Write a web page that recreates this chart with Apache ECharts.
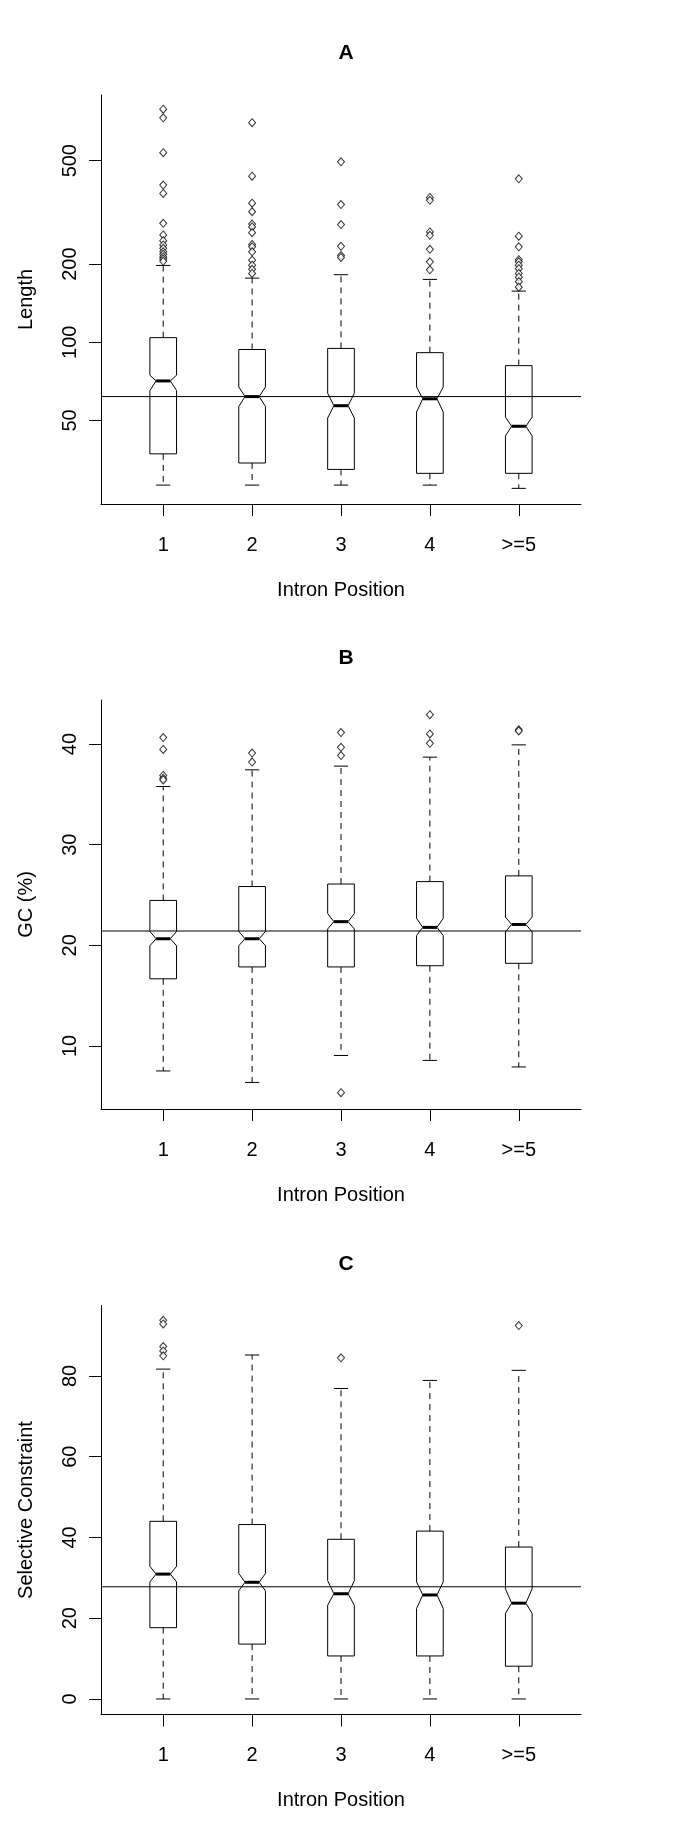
<!DOCTYPE html>
<html>
<head>
<meta charset="utf-8">
<script src="https://cdn.jsdelivr.net/npm/echarts@6/dist/echarts.min.js"></script>
<style>
  html, body { margin: 0; padding: 0; background: #fff; }
  #chart { width: 685px; height: 1842px; }
</style>
</head>
<body>
<div id="chart"></div>
<script>
// categories shared by the three panels
const categories = ['1', '2', '3', '4', '>=5'];

// A: intron length (log scale)
const lenLow = [28.2, 28.2, 28.2, 28.2, 27.4];
const lenQ1 = [37.2, 34.3, 32.4, 31.3, 31.3];
const lenNotchLow = [65.2, 56.6, 51.1, 53.9, 43.6];
const lenMedian = [71.0, 61.8, 57.0, 60.6, 47.5];
const lenNotchHigh = [74.7, 67.3, 63.7, 67.3, 51.5];
const lenQ3 = [104.2, 93.8, 94.7, 91.2, 81.3];
const lenHigh = [197.6, 176.6, 182, 174.6, 157.4];
const lenOutliers = [
  [789, 731, 537, 403, 374, 287, 259, 246, 237, 230, 223, 218, 213, 209, 205],
  [700, 436, 343, 318, 285, 278, 264, 238, 233, 223, 207, 198, 191, 184],
  [495, 339, 284, 234, 216, 212],
  [361, 352, 266, 258, 228, 204, 190],
  [426, 256, 233, 208, 204, 198, 192, 184, 178, 171, 163]
];
const lenRef = 61.8;
const lenTicks = [50, 100, 200, 500];

// B: GC content
const gcLow = [7.51, 6.37, 9.05, 8.56, 7.91];
const gcQ1 = [16.67, 17.85, 17.85, 17.97, 18.21];
const gcNotchLow = [19.96, 19.96, 21.62, 20.97, 21.34];
const gcMedian = [20.65, 20.65, 22.35, 21.78, 22.07];
const gcNotchHigh = [21.38, 21.38, 23.16, 22.68, 22.80];
const gcQ3 = [24.46, 25.84, 26.09, 26.33, 26.90];
const gcHigh = [35.78, 37.44, 37.81, 38.70, 39.92];
const gcOutliers = [
  [40.65, 39.47, 36.88, 36.59, 36.43],
  [39.11, 38.21],
  [41.14, 39.68, 38.86, 5.35],
  [42.92, 41.01, 40.08],
  [41.42, 41.30]
];
const gcRef = 21.42;
const gcTicks = [10, 20, 30, 40];

// C: selective constraint
const scLow = [0, 0, 0, 0, 0];
const scQ1 = [17.65, 13.59, 10.65, 10.65, 8.11];
const scNotchLow = [29.0, 26.8, 23.2, 22.4, 21.2];
const scMedian = [30.93, 28.9, 26.06, 25.76, 23.73];
const scNotchHigh = [32.86, 31.1, 29.3, 29.0, 27.3];
const scQ3 = [44.0, 43.2, 39.55, 41.58, 37.63];
const scHigh = [81.7, 85.2, 76.9, 78.9, 81.4];
const scOutliers = [
  [93.8, 92.9, 87.3, 86.2, 85.0],
  [],
  [84.5],
  [],
  [92.5]
];
const scRef = 27.79;
const scTicks = [0, 20, 40, 60, 80];

const FONT = 'Liberation Sans, Arial, sans-serif';
const BOX_HALF = 0.15, NOTCH_HALF = 0.08, STAPLE_HALF = 0.08;

function boxData(lo, q1, nl, med, nh, q3, hi) {
  return categories.map((c, i) => [i + 1, lo[i], q1[i], nl[i], med[i], nh[i], q3[i], hi[i]]);
}

function outlierData(list) {
  let out = [];
  list.forEach((vals, i) => vals.forEach(v => out.push([i + 1, v])));
  return out;
}

function renderBox(params, api) {
  const x = api.value(0);
  const p = k => api.coord([x, api.value(k)]);
  const lo = p(1), q1 = p(2), nl = p(3), med = p(4), nh = p(5), q3 = p(6), hi = p(7);
  const cx = lo[0];
  const hw = api.coord([x + BOX_HALF, api.value(4)])[0] - cx;
  const nw = api.coord([x + NOTCH_HALF, api.value(4)])[0] - cx;
  const sw = api.coord([x + STAPLE_HALF, api.value(4)])[0] - cx;
  const thin = { stroke: '#000', lineWidth: 1 };
  const dashed = { stroke: '#000', lineWidth: 1, lineDash: [6, 5] };
  return {
    type: 'group',
    children: [
      { type: 'line', shape: { x1: cx, y1: q3[1], x2: cx, y2: hi[1] }, style: dashed },
      { type: 'line', shape: { x1: cx, y1: q1[1], x2: cx, y2: lo[1] }, style: dashed },
      { type: 'line', shape: { x1: cx - sw, y1: hi[1], x2: cx + sw, y2: hi[1] }, style: thin },
      { type: 'line', shape: { x1: cx - sw, y1: lo[1], x2: cx + sw, y2: lo[1] }, style: thin },
      {
        type: 'polygon',
        shape: {
          points: [
            [cx - hw, q3[1]], [cx + hw, q3[1]], [cx + hw, nh[1]], [cx + nw, med[1]],
            [cx + hw, nl[1]], [cx + hw, q1[1]], [cx - hw, q1[1]], [cx - hw, nl[1]],
            [cx - nw, med[1]], [cx - hw, nh[1]]
          ]
        },
        style: { fill: 'rgba(255,255,255,0)', stroke: '#000', lineWidth: 1 }
      },
      { type: 'line', shape: { x1: cx - nw, y1: med[1], x2: cx + nw, y2: med[1] }, style: { stroke: '#000', lineWidth: 3 } }
    ]
  };
}

const panels = [
  { title: 'A', yName: 'Length', top: 95, yType: 'log', min: 23.85, max: 895, ticks: lenTicks,
    box: boxData(lenLow, lenQ1, lenNotchLow, lenMedian, lenNotchHigh, lenQ3, lenHigh),
    out: outlierData(lenOutliers), ref: lenRef },
  { title: 'B', yName: 'GC (%)', top: 700, yType: 'value', min: 3.73, max: 44.38, ticks: gcTicks,
    box: boxData(gcLow, gcQ1, gcNotchLow, gcMedian, gcNotchHigh, gcQ3, gcHigh),
    out: outlierData(gcOutliers), ref: gcRef },
  { title: 'C', yName: 'Selective Constraint', top: 1305.5, yType: 'value', min: -3.85, max: 97.46, ticks: scTicks,
    box: boxData(scLow, scQ1, scNotchLow, scMedian, scNotchHigh, scQ3, scHigh),
    out: outlierData(scOutliers), ref: scRef }
];

const axisText = { color: '#000', fontSize: 20, fontFamily: FONT };

let option = {
  backgroundColor: '#fff',
  animation: false,
  title: [], grid: [], xAxis: [], yAxis: [], series: []
};

panels.forEach((pn, k) => {
  option.title.push({
    text: pn.title, left: 341, top: pn.top - 57, textAlign: 'center',
    textStyle: { fontSize: 21, fontWeight: 'bold', color: '#000', fontFamily: FONT }
  });
  option.grid.push({ left: 101, top: pn.top, width: 480, height: 409 });
  option.xAxis.push({
    type: 'value', gridIndex: k, min: 0.3, max: 5.7,
    name: 'Intron Position', nameLocation: 'middle', nameGap: 76, nameTextStyle: axisText,
    axisLine: { show: true, onZero: false, lineStyle: { color: '#000', width: 1 } },
    axisTick: { show: true, inside: false, length: 12, customValues: [1, 2, 3, 4, 5], lineStyle: { color: '#000' } },
    axisLabel: { ...axisText, margin: 31, customValues: [1, 2, 3, 4, 5], formatter: v => categories[Math.round(v) - 1] },
    splitLine: { show: false }
  });
  option.yAxis.push({
    type: pn.yType, gridIndex: k, min: pn.min, max: pn.max,
    name: pn.yName, nameLocation: 'middle', nameGap: 65, nameTextStyle: axisText,
    axisLine: { show: true, onZero: false, lineStyle: { color: '#000', width: 1 } },
    axisTick: { show: true, inside: false, length: 12, customValues: pn.ticks, lineStyle: { color: '#000' } },
    axisLabel: { ...axisText, rotate: 90, margin: 21, customValues: pn.ticks },
    splitLine: { show: false }
  });
  option.series.push({
    type: 'line', xAxisIndex: k, yAxisIndex: k, silent: true, symbol: 'none',
    lineStyle: { color: '#000', width: 1 },
    data: [[0.3, pn.ref], [5.7, pn.ref]]
  });
  option.series.push({
    type: 'custom', xAxisIndex: k, yAxisIndex: k, renderItem: renderBox,
    encode: { x: 0, y: [1, 2, 3, 4, 5, 6, 7] }, data: pn.box, z: 3
  });
  option.series.push({
    type: 'scatter', xAxisIndex: k, yAxisIndex: k, symbol: 'diamond', symbolSize: [7, 8],
    itemStyle: { color: '#fff', borderColor: '#000', borderWidth: 1 },
    data: pn.out, z: 4
  });
});

const chart = echarts.init(document.getElementById('chart'));
chart.setOption(option);
</script>
</body>
</html>
